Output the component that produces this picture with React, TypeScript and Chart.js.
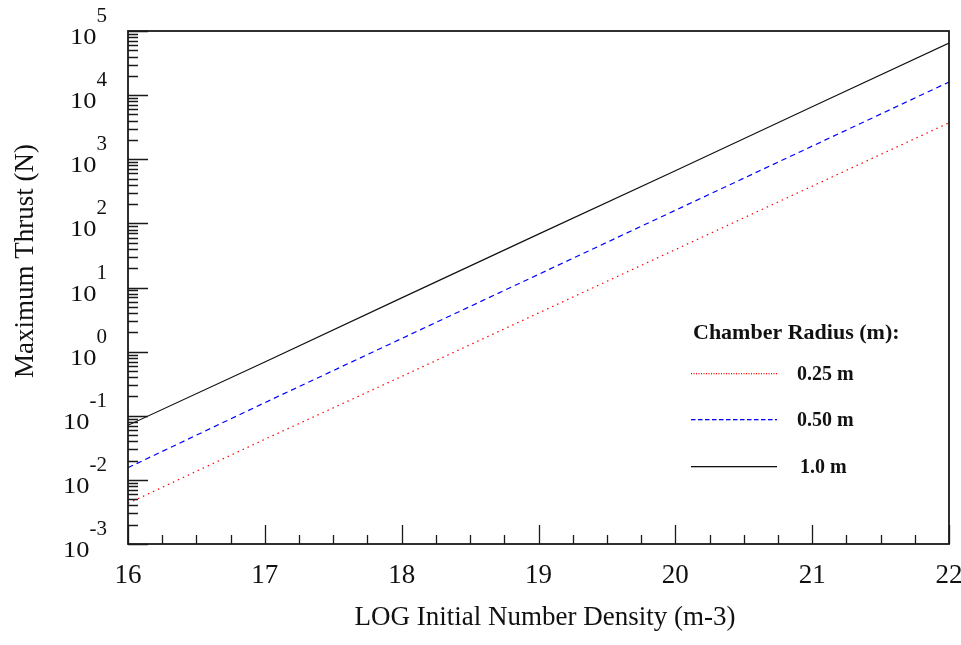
import React, { useEffect, useRef } from "react";
import { Chart, registerables } from "chart.js";

Chart.register(...registerables);

// ---- data ----
const densityLog = [16, 17, 18, 19, 20, 21, 22];
const thrust025 = [0.0043, 0.043, 0.41, 4.0, 39, 380, 3700];
const thrust050 = [0.0155, 0.16, 1.6, 16, 160, 1600, 16000];
const thrust100 = [0.071, 0.69, 6.9, 68, 660, 6600, 65000];
const seriesLabels = ["0.25 m", "0.50 m", "1.0 m"];
const xTickValues = [16, 17, 18, 19, 20, 21, 22];
const yExponents = [-3, -2, -1, 0, 1, 2, 3, 4, 5];
const xTitle = "LOG Initial Number Density (m-3)";
const yTitle = "Maximum Thrust (N)";
const legendTitle = "Chamber Radius (m):";

const SERIF = '"Liberation Serif", "Times New Roman", Times, serif';
const seriesColors = ["rgb(255,0,0)", "rgb(0,0,255)", "rgb(17,17,17)"];
const plotDash = [[1.5, 4], [5.5, 4], []];
// legend sample pattern: [on, off] in px, 0 off = solid
const legendPattern = [[1, 1.5], [4.5, 2.5], [86, 0]];

const decorPlugin = {
  id: "decor",
  afterDatasetsDraw(chart: any) {
    const { ctx, chartArea: a, scales } = chart;
    const xs = scales.x;
    const ys = scales.y;
    ctx.save();
    ctx.setLineDash([]);

    // ticks inside the plot
    ctx.strokeStyle = "#1a1a1a";
    ctx.lineWidth = 1.3;
    ctx.beginPath();
    for (let i = 0; i < xTickValues.length; i++) {
      const v = xTickValues[i];
      const px = Math.round(xs.getPixelForValue(v)) + 0.5;
      ctx.moveTo(px, a.bottom);
      ctx.lineTo(px, a.bottom - 19);
      if (i < xTickValues.length - 1) {
        const next = xTickValues[i + 1];
        for (let k = 1; k < 4; k++) {
          const mv = v + ((next - v) * k) / 4;
          const mp = Math.round(xs.getPixelForValue(mv)) + 0.5;
          ctx.moveTo(mp, a.bottom);
          ctx.lineTo(mp, a.bottom - 9);
        }
      }
    }
    const maxExp = yExponents[yExponents.length - 1];
    for (const e of yExponents) {
      for (let m = 1; m <= 9; m++) {
        if (e === maxExp && m > 1) break;
        const py = Math.round(ys.getPixelForValue(m * Math.pow(10, e))) + 0.5;
        const len = m === 1 ? 20 : 10;
        ctx.moveTo(a.left, py);
        ctx.lineTo(a.left + len, py);
      }
    }
    ctx.stroke();

    // frame
    ctx.lineWidth = 1.8;
    ctx.strokeStyle = "#1a1a1a";
    ctx.strokeRect(a.left, a.top, a.right - a.left, a.bottom - a.top);

    ctx.fillStyle = "#111";
    ctx.textBaseline = "alphabetic";

    // y tick labels 10^n
    for (const e of yExponents) {
      const py = ys.getPixelForValue(Math.pow(10, e));
      const expStr = String(e);
      ctx.font = `21px ${SERIF}`;
      const wExp = ctx.measureText(expStr).width;
      ctx.font = `23px ${SERIF}`;
      const sx = 1.15;
      const wBase = ctx.measureText("10").width * sx;
      const right = 107;
      const xBase = right - wExp - wBase;
      ctx.save();
      ctx.translate(xBase, py + 13);
      ctx.scale(sx, 1);
      ctx.textAlign = "left";
      ctx.fillText("10", 0, 0);
      ctx.restore();
      ctx.font = `21px ${SERIF}`;
      ctx.textAlign = "left";
      ctx.fillText(expStr, right - wExp, py - 9);
    }

    // x tick labels
    ctx.font = `27px ${SERIF}`;
    ctx.textAlign = "center";
    for (const v of xTickValues) {
      ctx.fillText(String(v), xs.getPixelForValue(v), 583);
    }

    // axis titles
    ctx.font = `27px ${SERIF}`;
    ctx.textAlign = "center";
    ctx.fillText(xTitle, 545, 625);
    ctx.save();
    ctx.translate(33, 261);
    ctx.rotate(-Math.PI / 2);
    ctx.fillText(yTitle, 0, 0);
    ctx.restore();

    // legend
    ctx.textAlign = "left";
    ctx.font = `bold 22px ${SERIF}`;
    ctx.fillText(legendTitle, 693, 339);
    const rowsY = [373, 419, 466];
    const textX = [797, 797, 800];
    const x0 = 691;
    const x1 = 777;
    for (let i = 0; i < seriesLabels.length; i++) {
      const y = rowsY[i];
      const [on, off] = legendPattern[i];
      ctx.fillStyle = seriesColors[i];
      for (let x = x0; x < x1; x += on + off) {
        ctx.fillRect(x, y, Math.min(on, x1 - x), 1.3);
      }
      ctx.font = `bold 20px ${SERIF}`;
      ctx.fillStyle = "#111";
      ctx.textBaseline = "middle";
      ctx.fillText(seriesLabels[i], textX[i], y + 2);
      ctx.textBaseline = "alphabetic";
    }

    ctx.restore();
  },
};

export default function App() {
  const canvasRef = useRef<HTMLCanvasElement | null>(null);

  useEffect(() => {
    const canvas = canvasRef.current;
    if (!canvas) return;
    const mk = (ys: number[]) => densityLog.map((x, i) => ({ x, y: ys[i] }));
    const series = [thrust025, thrust050, thrust100];
    const chart = new Chart(canvas, {
      type: "line",
      data: {
        datasets: series.map((s, i) => ({
          label: seriesLabels[i],
          data: mk(s),
          borderColor: seriesColors[i],
          borderWidth: 1.2,
          borderDash: plotDash[i],
          pointRadius: 0,
          tension: 0,
          fill: false,
        })),
      },
      options: {
        responsive: false,
        animation: false,
        events: [],
        layout: { padding: { top: 31, right: 12, left: 0, bottom: 0 } },
        plugins: {
          legend: { display: false },
          tooltip: { enabled: false },
          title: { display: false },
        },
        scales: {
          x: {
            type: "linear",
            min: 16,
            max: 22,
            grid: { display: false, drawTicks: false },
            border: { display: false },
            ticks: { display: false },
            afterFit: (scale: any) => {
              scale.height = 101;
            },
          },
          y: {
            type: "logarithmic",
            min: 1e-3,
            max: 1e5,
            grid: { display: false, drawTicks: false },
            border: { display: false },
            ticks: { display: false },
            afterFit: (scale: any) => {
              scale.width = 128;
            },
          },
        },
      },
      plugins: [decorPlugin],
    });
    return () => chart.destroy();
  }, []);

  return (
    <div style={{ position: "fixed", left: 0, top: 0, width: 961, height: 645, background: "#fff" }}>
      <canvas ref={canvasRef} width={961} height={645} style={{ display: "block" }} />
    </div>
  );
}
